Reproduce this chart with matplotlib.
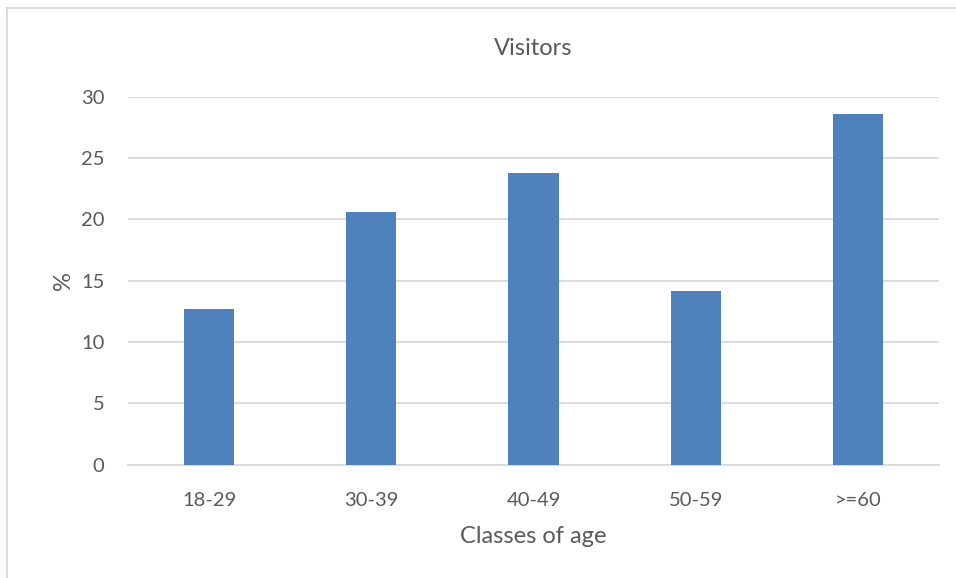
import matplotlib.pyplot as plt
from matplotlib.lines import Line2D

# data
age_classes = ["18-29", "30-39", "40-49", "50-59", ">=60"]
visitors_pct = [12.7, 20.6, 23.8, 14.2, 28.6]
y_ticks = [0, 5, 10, 15, 20, 25, 30]

plt.rcParams['font.family'] = ['Lato', 'DejaVu Sans']

text_col = '#595959'
fig = plt.figure(figsize=(9.56, 5.78), dpi=100)
ax = fig.add_axes([128 / 956, 1 - 464.7 / 578, (939 - 128) / 956, (464.7 - 96.7) / 578])

x = range(len(age_classes))
ax.bar(x, visitors_pct, width=0.31, color='#4f81bd', zorder=3)

ax.set_xlim(-0.5, len(age_classes) - 0.5)
ax.set_ylim(0, 30)
ax.set_yticks(y_ticks)
ax.set_xticks(list(x))
ax.set_xticklabels(age_classes)
ax.grid(axis='y', color='#d9d9d9', linewidth=1.3, zorder=0)
for s in ['top', 'right', 'left']:
    ax.spines[s].set_visible(False)
ax.spines['bottom'].set_color('#d9d9d9')
ax.spines['bottom'].set_linewidth(1.3)
ax.tick_params(axis='both', length=0, labelsize=14.5, colors=text_col)
ax.tick_params(axis='y', pad=17)
ax.tick_params(axis='x', pad=20)

ax.set_title("Visitors", fontsize=17, color=text_col, pad=30)
ax.set_xlabel("Classes of age", fontsize=17, color=text_col, labelpad=12)
ax.set_ylabel("%", fontsize=17, color=text_col, labelpad=5)

# light chart frame (left and top edges visible in the reference)
fig.add_artist(Line2D([7 / 956, 7 / 956], [0, 1 - 8 / 578], color='#d9d9d9', lw=1.3))
fig.add_artist(Line2D([7 / 956, 1], [1 - 8 / 578, 1 - 8 / 578], color='#d9d9d9', lw=1.3))

plt.savefig("out.png", dpi=100)
plt.close()
